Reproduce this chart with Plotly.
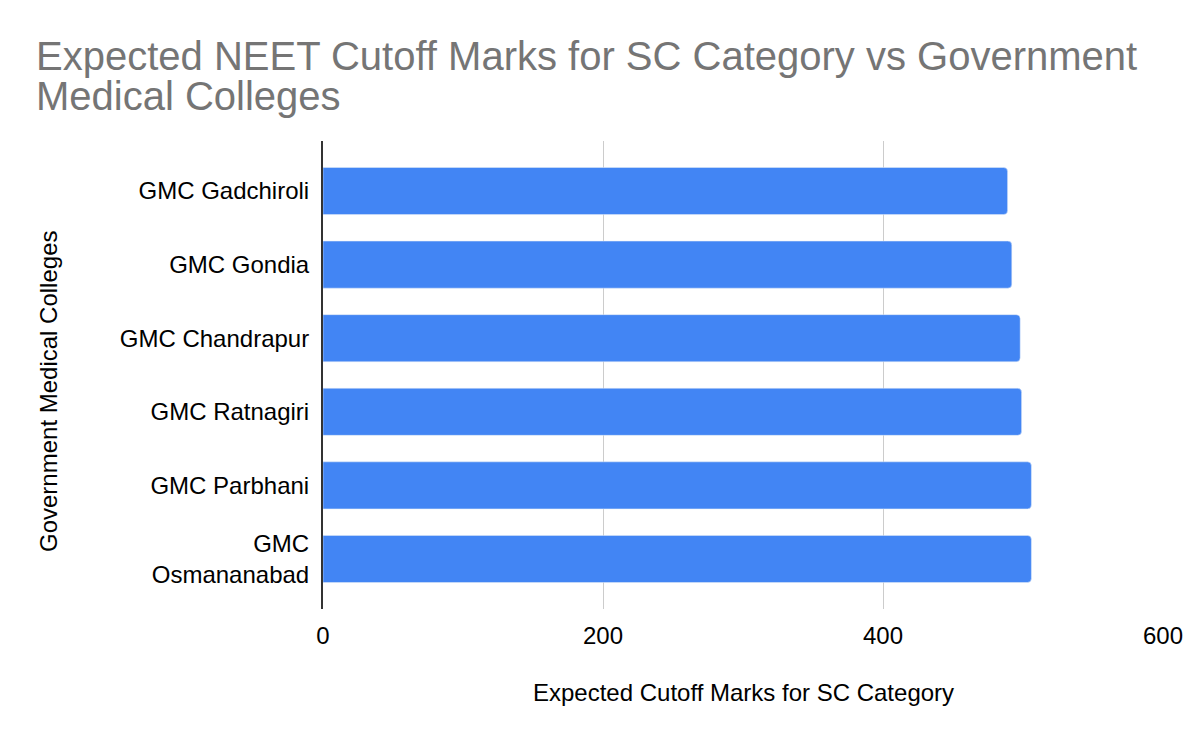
import plotly.graph_objects as go

colleges = ["GMC Gadchiroli", "GMC Gondia", "GMC Chandrapur", "GMC Ratnagiri", "GMC Parbhani", "GMC<br>Osmananabad"]
cutoff_marks = [489, 492, 498, 499, 506, 506]
x_ticks = [0, 200, 400, 600]
title_lines = ["Expected NEET Cutoff Marks for SC Category vs Government", "Medical Colleges"]

fig = go.Figure()
fig.add_trace(go.Bar(
    x=cutoff_marks,
    y=colleges,
    orientation="h",
    marker=dict(color="#4285F4", cornerradius=4),
    showlegend=False,
))

font_family = "Liberation Sans, Arial, sans-serif"

W, H = 1200, 742
ML, MR, MT, MB = 323, 37, 141, 133
plot_w = W - ML - MR
plot_h = H - MT - MB

title_annots = []
for i, line in enumerate(title_lines):
    top_px = 32 + 40 * i
    title_annots.append(dict(
        text=line,
        x=(34 - ML) / plot_w, xref="paper", xanchor="left",
        y=(H - MB - top_px) / plot_h, yref="paper", yanchor="top",
        align="left",
        showarrow=False,
        font=dict(family=font_family, size=40, color="#757575"),
    ))

fig.update_layout(
    width=W,
    height=H,
    paper_bgcolor="white",
    plot_bgcolor="white",
    margin=dict(l=ML, r=MR, t=MT, b=MB),
    bargap=0.36,
    font=dict(family=font_family, color="#000000", size=24),
    xaxis=dict(
        range=[0, 600],
        tickvals=x_ticks,
        showgrid=True,
        gridcolor="#cccccc",
        gridwidth=1,
        zeroline=False,
        showline=False,
        ticks="",
        ticklabelstandoff=10,
        tickfont=dict(size=24, color="#000000"),
        fixedrange=True,
    ),
    yaxis=dict(
        categoryorder="array",
        categoryarray=colleges,
        range=[5.68, -0.68],
        showline=True,
        linecolor="#333333",
        linewidth=2,
        showgrid=False,
        ticks="",
        ticklabelstandoff=7,
        tickfont=dict(size=24, color="#000000"),
    ),
    annotations=title_annots + [
        dict(
            text="Expected Cutoff Marks for SC Category",
            x=0.5, xref="paper",
            y=(H - MB - 692) / plot_h, yref="paper", yanchor="middle",
            showarrow=False,
            font=dict(size=24, color="#000000"),
        ),
        dict(
            text="Government Medical Colleges",
            x=(48 - ML) / plot_w, xref="paper", xanchor="center",
            y=(H - MB - 392) / plot_h, yref="paper", yanchor="middle",
            textangle=-90,
            showarrow=False,
            font=dict(size=24, color="#000000"),
        ),
    ],
)

fig.write_html("out.html")
